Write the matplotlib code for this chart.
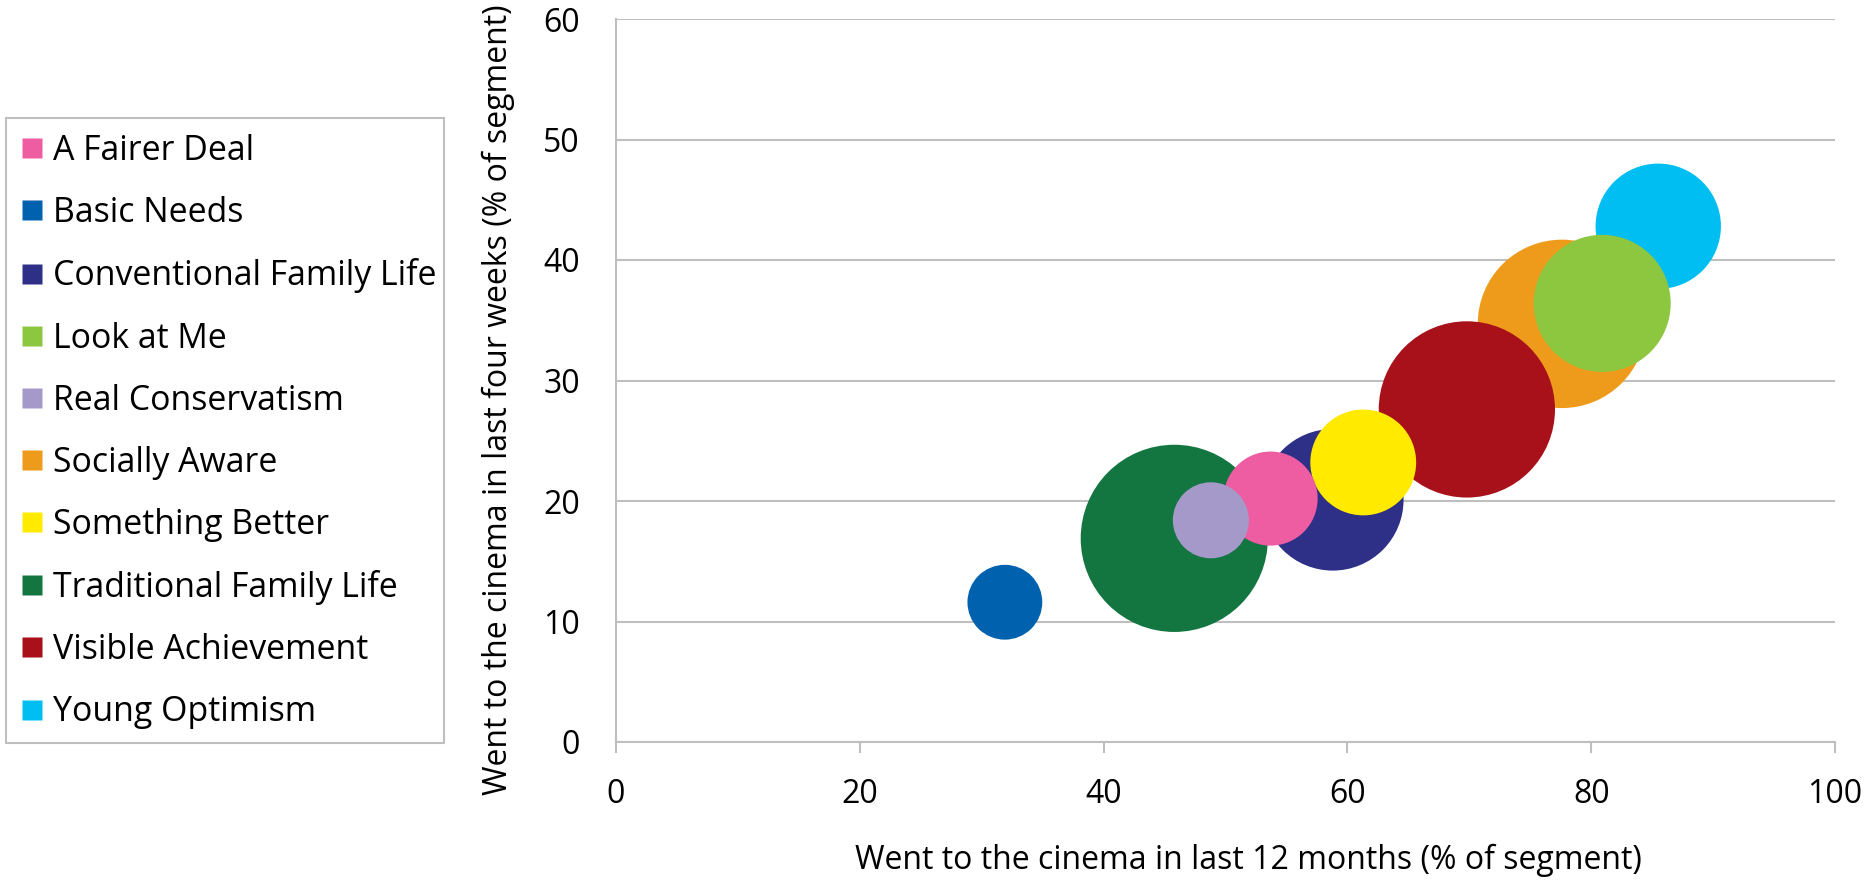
import matplotlib
matplotlib.use("Agg")
import matplotlib.pyplot as plt
from matplotlib.lines import Line2D
from matplotlib.patches import Rectangle
import numpy as np

plt.rcParams['font.family'] = ['Open Sans', 'DejaVu Sans']

segments = ['A Fairer Deal', 'Basic Needs', 'Conventional Family Life', 'Look at Me',
            'Real Conservatism', 'Socially Aware', 'Something Better',
            'Traditional Family Life', 'Visible Achievement', 'Young Optimism']
last_12_months = [53.7, 31.9, 58.8, 80.9, 48.8, 77.6, 61.3, 45.8, 69.8, 85.5]
last_four_weeks = [20.2, 11.6, 20.1, 36.4, 18.4, 34.7, 23.2, 16.9, 27.6, 42.8]
segment_size = [4.9, 3.1, 11.1, 10.4, 3.2, 15.7, 6.2, 19.4, 17.2, 8.7]

colors = ['#EE5CA1', '#0061AF', '#2E3088', '#8DC63F', '#A599C9',
          '#EE9B1C', '#FFEA00', '#137540', '#A8101A', '#00BEF2']
# bottom to top, as the bubbles overlap in the original
stack_order = ['Traditional Family Life', 'Socially Aware', 'Visible Achievement',
               'Conventional Family Life', 'Young Optimism', 'Look at Me',
               'Something Better', 'A Fairer Deal', 'Real Conservatism', 'Basic Needs']

grey = '#BFBFBF'
W, H = 1869, 882
fig = plt.figure(figsize=(W / 100, H / 100), dpi=100)
ax = fig.add_axes([616 / W, 1 - 742 / H, (1835 - 616) / W, (742 - 19) / H])

sizes = np.array(segment_size)
s_max = (2 * 93.6 * 0.72) ** 2
for z, name in enumerate(stack_order):
    i = segments.index(name)
    ax.scatter(last_12_months[i], last_four_weeks[i], s=sizes[i] / sizes.max() * s_max,
               color=colors[i], edgecolors='none', zorder=3 + z)

ax.set_xlim(0, 100)
ax.set_ylim(0, 60)
ax.set_xticks(range(0, 101, 20))
ax.set_yticks(range(0, 61, 10))
ax.yaxis.grid(True, color=grey, linewidth=1.5)
ax.set_axisbelow(True)
for side in ['top', 'right']:
    ax.spines[side].set_visible(False)
for side in ['left', 'bottom']:
    ax.spines[side].set_color(grey)
    ax.spines[side].set_linewidth(1.5)
ax.tick_params(axis='x', length=8, width=1.5, color=grey, pad=18, labelsize=23)
ax.tick_params(axis='y', length=0, pad=26, labelsize=23)

ax.set_xlabel('Went to the cinema in last 12 months (% of segment)', fontsize=23)
ax.set_ylabel('Went to the cinema in last four weeks (% of segment)', fontsize=23)
ax.xaxis.set_label_coords(0.519, -0.141)
ax.yaxis.set_label_coords(-0.083, 0.473)

handles = [Line2D([], [], linestyle='none', marker='s', markersize=14.4,
                  markerfacecolor=c, markeredgecolor='none') for c in colors]
leg = fig.legend(handles, segments, loc='upper left',
                 bbox_to_anchor=(5.7 / W, 1 - 118.3 / H), fontsize=24.4,
                 frameon=False, borderpad=0.47, labelspacing=0.83,
                 handlelength=0.61, handletextpad=0.32, borderaxespad=0)
# legend box drawn separately so its size matches the original
fig.patches.append(Rectangle((5.7 / W, 1 - 743.3 / H), (444 - 5.7) / W, (743.3 - 118.3) / H,
                             transform=fig.transFigure, facecolor='none',
                             edgecolor=grey, linewidth=1.5))

fig.savefig('out.png', dpi=100, facecolor='white')
